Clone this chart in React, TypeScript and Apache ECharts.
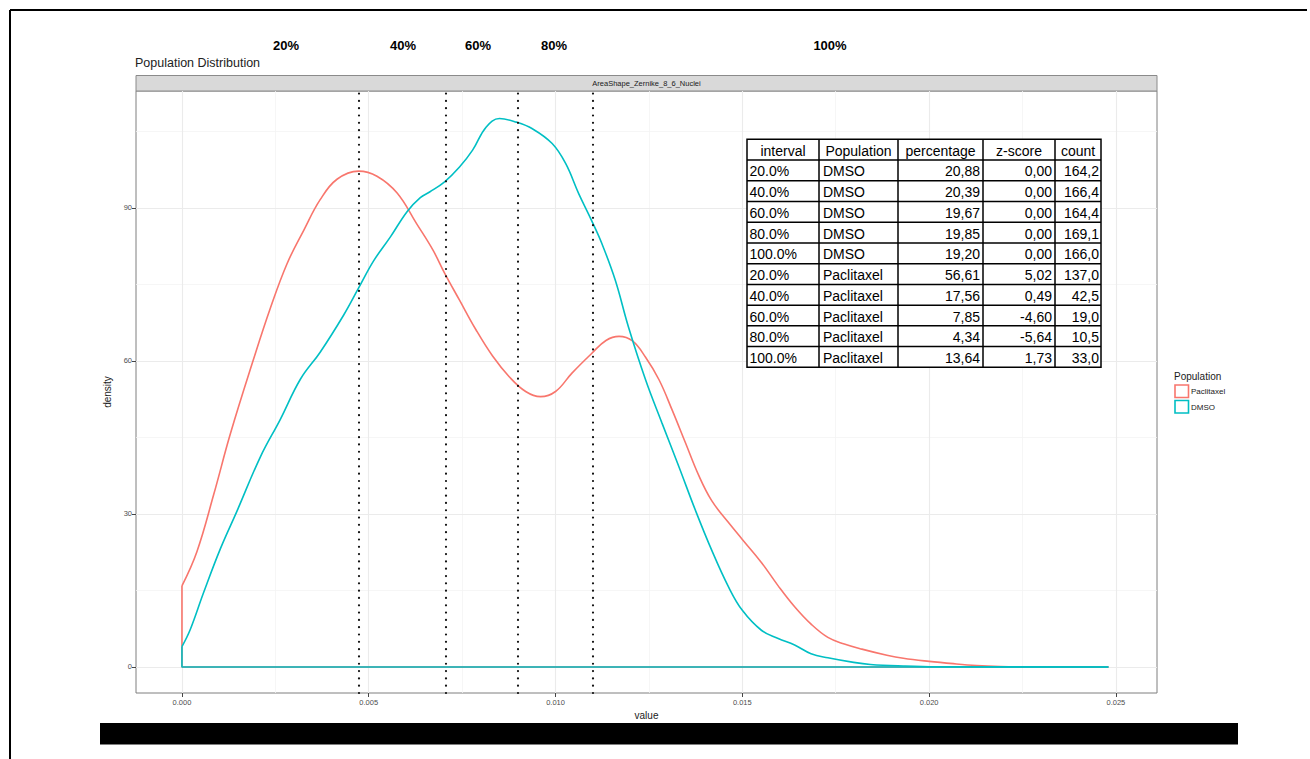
import React, { useEffect, useRef } from "react";
import * as echarts from "echarts";

// ---------- data ----------
const PACLITAXEL: [number, number][] = [
  [0, 15.9], [0.0004, 22.6], [0.00085, 33.8], [0.0013, 45.8], [0.00192, 60.4], [0.00237, 70.4],
  [0.00281, 79], [0.00326, 85.6], [0.0037, 91.6], [0.00415, 95.6], [0.00473, 97.2], [0.00522, 96.2],
  [0.00576, 92.9], [0.00628, 86.9], [0.00672, 81.7], [0.00703, 77.2], [0.00743, 71.9], [0.00787, 66.1],
  [0.00832, 60.9], [0.00876, 56.9], [0.0092, 54], [0.0096, 53], [0.01, 54], [0.01044, 57.6],
  [0.01096, 61.4], [0.01135, 64], [0.0117, 64.8], [0.01206, 63.9], [0.01241, 60.7], [0.01277, 56.3],
  [0.01312, 50.4], [0.01348, 43.9], [0.01383, 37.6], [0.01418, 32.6], [0.01463, 28.3], [0.015, 25.0],
  [0.01551, 20.5], [0.01596, 15.9], [0.0164, 11.8], [0.01684, 8.4], [0.01729, 5.8], [0.01773, 4.5],
  [0.0182, 3.5], [0.01887, 2.3], [0.01931, 1.7], [0.02, 1.1], [0.02065, 0.65], [0.02127, 0.3],
  [0.0219, 0.1], [0.0225, 0.03], [0.0248, 0],
];
const DMSO: [number, number][] = [
  [0, 4], [0.00022, 7.3], [0.00058, 14.6], [0.00103, 23.2], [0.00147, 30.5], [0.0021, 41.2],
  [0.00263, 48.5], [0.00317, 56.4], [0.0037, 61.7], [0.00433, 69], [0.00473, 74.3], [0.00513, 79.6],
  [0.00558, 84.3], [0.00603, 89.3], [0.00638, 92], [0.00663, 93.1], [0.00703, 95.1], [0.00743, 98],
  [0.00778, 101.3], [0.00814, 105.8], [0.0085, 107.5], [0.00895, 106.8], [0.00938, 105.5], [0.00991, 102.6],
  [0.01027, 98.7], [0.01062, 92.8], [0.01096, 87.6], [0.01124, 83], [0.0116, 75.8], [0.01195, 66.7],
  [0.01241, 56.3], [0.01285, 47.8], [0.0133, 39.3], [0.01374, 30.8], [0.01418, 22.9], [0.01463, 15.7],
  [0.015, 11.1], [0.01551, 7.2], [0.01596, 5.6], [0.0164, 4.3], [0.01684, 2.6], [0.01729, 1.8],
  [0.01798, 0.9], [0.01843, 0.5], [0.01931, 0.2], [0.0202, 0.05], [0.0248, 0],
];
const DATA_MAX_X = 0.0248;

const X_MAJOR = [0, 0.005, 0.01, 0.015, 0.02, 0.025];
const X_MINOR = [0.0025, 0.0075, 0.0125, 0.0175, 0.0225];
const Y_MAJOR = [0, 30, 60, 90];
const Y_MINOR = [15, 45, 75, 105];
const QUANTILES = [0.00474, 0.00705, 0.00899, 0.011];
const PCT_LABELS = ["20%", "40%", "60%", "80%", "100%"];

const TABLE_HEADER = ["interval", "Population", "percentage", "z-score", "count"];
const T_INTERVAL = [20, 40, 60, 80, 100, 20, 40, 60, 80, 100];
const T_POP = ["DMSO", "DMSO", "DMSO", "DMSO", "DMSO", "Paclitaxel", "Paclitaxel", "Paclitaxel", "Paclitaxel", "Paclitaxel"];
const T_PERCENT = [20.88, 20.39, 19.67, 19.85, 19.2, 56.61, 17.56, 7.85, 4.34, 13.64];
const T_Z = [0, 0, 0, 0, 0, 5.02, 0.49, -4.6, -5.64, 1.73];
const T_COUNT = [164.2, 166.4, 164.4, 169.1, 166.0, 137.0, 42.5, 19.0, 10.5, 33.0];

// ---------- layout ----------
const FONT = "'Liberation Sans', Arial, Helvetica, sans-serif";
const RED = "#F8766D";
const TEAL = "#00BFC4";
const GRID = { left: 136, top: 91, right: 1157, bottom: 693 };
const PCT_X = [286, 403, 478, 554, 830];
const COL_X = [747, 819, 898, 983, 1055, 1101];
const TABLE_TOP = 139.3;
const ROW_H = 20.73;
const TABLE_Z = 100;

const comma = (v: number, d: number) => v.toFixed(d).replace(".", ",");

function buildTable(): any[] {
  const els: any[] = [];
  const nRows = T_INTERVAL.length + 1;
  const tableBottom = TABLE_TOP + nRows * ROW_H;
  const ls = { stroke: "#000", lineWidth: 1.5 };
  els.push({
    type: "rect",
    z: TABLE_Z,
    shape: { x: COL_X[0], y: TABLE_TOP, width: COL_X[5] - COL_X[0], height: nRows * ROW_H },
    style: { fill: "#fff", stroke: "#000", lineWidth: 1.5 },
  });
  for (let r = 1; r < nRows; r++) {
    const y = TABLE_TOP + r * ROW_H;
    els.push({ type: "line", z: TABLE_Z + 1, shape: { x1: COL_X[0], y1: y, x2: COL_X[5], y2: y }, style: ls });
  }
  COL_X.slice(1, 5).forEach((x) => {
    els.push({ type: "line", z: TABLE_Z + 1, shape: { x1: x, y1: TABLE_TOP, x2: x, y2: tableBottom }, style: ls });
  });
  const txt = (text: string, x: number, y: number, align: string) => ({
    type: "text",
    z: TABLE_Z + 2,
    x,
    y,
    style: { text, fill: "#000", font: `14px ${FONT}`, textAlign: align, textVerticalAlign: "middle" },
  });
  TABLE_HEADER.forEach((h, c) => {
    els.push(txt(h, (COL_X[c] + COL_X[c + 1]) / 2, TABLE_TOP + ROW_H / 2 + 1, "center"));
  });
  T_INTERVAL.forEach((iv, i) => {
    const y = TABLE_TOP + (i + 1.5) * ROW_H + 1;
    els.push(txt(`${iv.toFixed(1)}%`, COL_X[0] + 2.5, y, "left"));
    els.push(txt(T_POP[i], COL_X[1] + 4, y, "left"));
    els.push(txt(comma(T_PERCENT[i], 2), COL_X[3] - 3, y, "right"));
    els.push(txt(comma(T_Z[i], 2), COL_X[4] - 3, y, "right"));
    els.push(txt(comma(T_COUNT[i], 1), COL_X[5] - 2, y, "right"));
  });
  return els;
}

export default function App() {
  const ref = useRef<HTMLDivElement>(null);
  useEffect(() => {
    if (!ref.current) return;
    const chart = echarts.init(ref.current, undefined, { renderer: "svg" });

    const curveSeries = (name: string, data: [number, number][], color: string, z: number) => [
      {
        name: name + "-outline",
        type: "line",
        data: [[0, data[0][1]], [0, 0], [DATA_MAX_X, 0]],
        symbol: "none",
        lineStyle: { color, width: 1.6 },
        z,
        silent: true,
      },
      {
        name,
        type: "line",
        data,
        symbol: "none",
        smooth: 0.4,
        lineStyle: { color, width: 1.6 },
        z,
        silent: true,
      },
    ];

    const gridLine = (v: number, axis: "xAxis" | "yAxis", major: boolean) => ({
      [axis]: v,
      lineStyle: { color: major ? "#ebebeb" : "#f4f4f4", width: major ? 1.1 : 0.8, type: "solid" },
    });

    const option: any = {
      animation: false,
      backgroundColor: "#fff",
      title: {
        text: "Population Distribution",
        left: 135,
        top: 56,
        padding: 0,
        textStyle: { fontSize: 12.5, fontWeight: "normal", color: "#222", fontFamily: FONT },
      },
      grid: {
        left: GRID.left,
        top: GRID.top,
        width: GRID.right - GRID.left,
        height: GRID.bottom - GRID.top,
        show: true,
        borderColor: "#7f7f7f",
        borderWidth: 1,
        containLabel: false,
      },
      xAxis: {
        type: "value",
        min: -0.00123,
        max: 0.0261,
        name: "value",
        nameLocation: "middle",
        nameGap: 16,
        nameTextStyle: { fontSize: 10, color: "#222", fontFamily: FONT },
        axisLine: { show: false, onZero: false },
        splitLine: { show: false },
        axisTick: { show: true, length: 4, customValues: X_MAJOR, lineStyle: { color: "#444" } },
        axisLabel: {
          customValues: X_MAJOR,
          formatter: (v: number) => v.toFixed(3),
          fontSize: 7.5,
          color: "#4d4d4d",
          fontFamily: FONT,
          margin: 5,
        },
      },
      yAxis: {
        type: "value",
        min: -5.1,
        max: 112.9,
        name: "density",
        nameLocation: "middle",
        nameGap: 19,
        nameRotate: 90,
        nameTextStyle: { fontSize: 10, color: "#222", fontFamily: FONT },
        axisLine: { show: false, onZero: false },
        splitLine: { show: false },
        axisTick: { show: true, length: 4, customValues: Y_MAJOR, lineStyle: { color: "#444" } },
        axisLabel: {
          customValues: Y_MAJOR,
          fontSize: 7.5,
          color: "#4d4d4d",
          fontFamily: FONT,
          margin: 4,
        },
      },
      series: [
        {
          name: "grid",
          type: "line",
          data: [[0, 0]],
          symbol: "none",
          lineStyle: { opacity: 0 },
          z: 1,
          silent: true,
          markLine: {
            z: 1,
            precision: 8,
            silent: true,
            symbol: "none",
            label: { show: false },
            emphasis: { disabled: true },
            animation: false,
            data: [
              ...X_MINOR.map((v) => gridLine(v, "xAxis", false)),
              ...Y_MINOR.map((v) => gridLine(v, "yAxis", false)),
              ...X_MAJOR.map((v) => gridLine(v, "xAxis", true)),
              ...Y_MAJOR.map((v) => gridLine(v, "yAxis", true)),
            ],
          },
        },
        ...curveSeries("Paclitaxel", PACLITAXEL, RED, 3),
        ...curveSeries("DMSO", DMSO, TEAL, 4),
        {
          name: "quantiles",
          type: "line",
          data: [[0, 0]],
          symbol: "none",
          lineStyle: { opacity: 0 },
          z: 6,
          silent: true,
          markLine: {
            z: 6,
            precision: 8,
            silent: true,
            symbol: "none",
            label: { show: false },
            emphasis: { disabled: true },
            animation: false,
            lineStyle: { color: "#111", width: 2.2, type: [0.01, 7.3], cap: "round" },
            data: QUANTILES.map((v) => ({ xAxis: v })),
          },
        },
      ],
      graphic: [
        // outer frame
        { type: "line", shape: { x1: 10, y1: 10, x2: 1307, y2: 10 }, style: { stroke: "#000", lineWidth: 2 } },
        { type: "line", shape: { x1: 10, y1: 10, x2: 10, y2: 759 }, style: { stroke: "#000", lineWidth: 2 } },
        // bottom black bar
        { type: "rect", shape: { x: 100, y: 723, width: 1138, height: 21.5 }, style: { fill: "#000" } },
        // percent labels
        ...PCT_LABELS.map((t, i) => ({
          type: "text",
          x: PCT_X[i],
          y: 45,
          style: { text: t, font: `bold 13px ${FONT}`, fill: "#000", textAlign: "center", textVerticalAlign: "middle" },
        })),
        // strip
        {
          type: "rect",
          shape: { x: GRID.left, y: 75.5, width: GRID.right - GRID.left, height: 15.5 },
          style: { fill: "#d9d9d9", stroke: "#8a8a8a", lineWidth: 1 },
        },
        {
          type: "text",
          x: (GRID.left + GRID.right) / 2,
          y: 83.5,
          style: {
            text: "AreaShape_Zernike_8_6_Nuclei",
            font: `7.5px ${FONT}`,
            fill: "#1a1a1a",
            textAlign: "center",
            textVerticalAlign: "middle",
          },
        },
        // legend
        {
          type: "text",
          x: 1174,
          y: 376.5,
          style: { text: "Population", font: `10px ${FONT}`, fill: "#1a1a1a", textAlign: "left", textVerticalAlign: "middle" },
        },
        {
          type: "rect",
          shape: { x: 1175, y: 385, width: 13.5, height: 12.5 },
          style: { fill: "#fff", stroke: RED, lineWidth: 1.6 },
        },
        {
          type: "rect",
          shape: { x: 1175, y: 400.5, width: 13.5, height: 12.5 },
          style: { fill: "#fff", stroke: TEAL, lineWidth: 1.6 },
        },
        {
          type: "text",
          x: 1191,
          y: 391.5,
          style: { text: "Paclitaxel", font: `8px ${FONT}`, fill: "#1a1a1a", textAlign: "left", textVerticalAlign: "middle" },
        },
        {
          type: "text",
          x: 1191,
          y: 407,
          style: { text: "DMSO", font: `8px ${FONT}`, fill: "#1a1a1a", textAlign: "left", textVerticalAlign: "middle" },
        },
        // table
        ...buildTable(),
      ],
    };
    chart.setOption(option);
    return () => chart.dispose();
  }, []);

  return (
    <div
      ref={ref}
      style={{ position: "fixed", left: 0, top: 0, width: 1310, height: 759, background: "#fff" }}
    />
  );
}
